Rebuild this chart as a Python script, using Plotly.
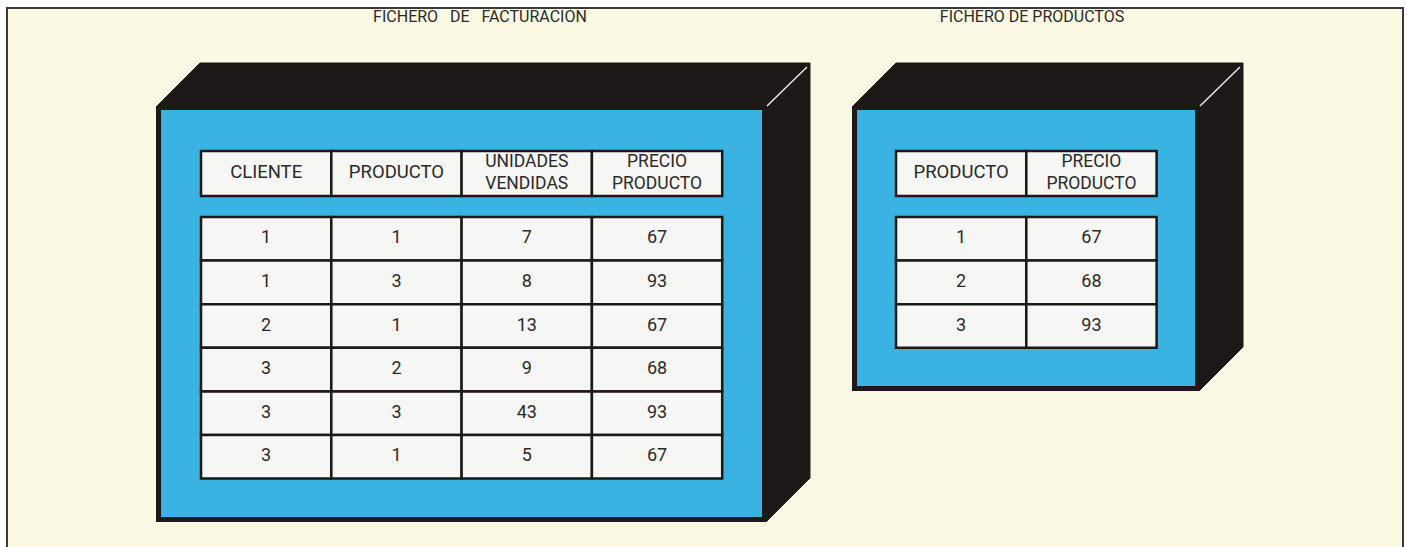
import plotly.graph_objects as go

W, H = 1407, 547

# ---------------- data ----------------
fact_title = "FICHERO\u00a0\u00a0\u00a0DE\u00a0\u00a0\u00a0FACTURACION"
prod_title = "FICHERO DE PRODUCTOS"

fact_headers = ["CLIENTE", "PRODUCTO", "UNIDADES\nVENDIDAS", "PRECIO\nPRODUCTO"]
fact_cliente = [1, 1, 2, 3, 3, 3]
fact_producto = [1, 3, 1, 2, 3, 1]
fact_unidades = [7, 8, 13, 9, 43, 5]
fact_precio = [67, 93, 67, 68, 93, 67]

prod_headers = ["PRODUCTO", "PRECIO\nPRODUCTO"]
prod_producto = [1, 2, 3]
prod_precio = [67, 68, 93]

# ---------------- style / layout ----------------
CREAM = "#FBF9E3"
BLUE = "#3AB3E2"
BLACK = "#1D1919"
CELL = "#F6F6F4"
INK = "#2A2A2A"
FONT = "Roboto, Liberation Sans, sans-serif"

CELL_W = 130.3
HEAD_TOP, HEAD_H = 151, 45
DATA_TOP, ROW_H = 217, 43.6
DEPTH = 44
BORDER = 5

boxes = [
    dict(x0=156, y0=107, x1=766, y1=522, tx=201, title=fact_title, title_x=480,
         headers=fact_headers,
         cols=[fact_cliente, fact_producto, fact_unidades, fact_precio]),
    dict(x0=852, y0=107, x1=1199, y1=391, tx=896, title=prod_title, title_x=1032,
         headers=prod_headers,
         cols=[prod_producto, prod_precio]),
]

shapes = []
# page frame
shapes.append(dict(type="rect", x0=7, y0=8, x1=1403, y1=620, fillcolor=CREAM,
                   line=dict(color="#3a3a3a", width=2), layer="below"))

head1_x, head1_y, head1_s = [], [], []
head2_x, head2_y, head2_s = [], [], []
text_x, text_y, text_s = [], [], []
title_x, title_y, title_s = [], [], []

for b in boxes:
    x0, y0, x1, y1 = b["x0"], b["y0"], b["x1"], b["y1"]
    d = DEPTH
    # top + side faces
    path = (f"M {x0},{y0} L {x0+d},{y0-d} L {x1+d},{y0-d} L {x1+d},{y1-d} "
            f"L {x1},{y1} L {x1},{y0} Z")
    shapes.append(dict(type="path", path=path, fillcolor=BLACK,
                       line=dict(color=BLACK, width=1), layer="below"))
    # front face
    shapes.append(dict(type="rect", x0=x0, y0=y0, x1=x1, y1=y1, fillcolor=BLACK,
                       line=dict(width=0), layer="below"))
    shapes.append(dict(type="rect", x0=x0 + BORDER, y0=y0 + 3, x1=x1 - 4, y1=y1 - BORDER,
                       fillcolor=BLUE, line=dict(width=0), layer="below"))
    # highlight edge
    shapes.append(dict(type="line", x0=x1 + d - 3, y0=y0 - d + 4, x1=x1 + 1, y1=y0 - 1,
                       line=dict(color="#E8E8E8", width=1.5), layer="below"))

    ncol = len(b["headers"])
    tx = b["tx"]
    # header cells
    for j, hdr in enumerate(b["headers"]):
        cx0 = tx + j * CELL_W
        shapes.append(dict(type="rect", x0=cx0, y0=HEAD_TOP, x1=cx0 + CELL_W,
                           y1=HEAD_TOP + HEAD_H, fillcolor=CELL,
                           line=dict(color=BLACK, width=2.5), layer="below"))
        lines = hdr.split("\n")
        cy = HEAD_TOP + HEAD_H / 2
        if len(lines) == 1:
            head1_x.append(cx0 + CELL_W / 2)
            head1_y.append(cy)
            head1_s.append(lines[0])
        else:
            head2_x.append(cx0 + CELL_W / 2)
            head2_y.append(cy)
            head2_s.append("<br>".join(lines))
    # data cells
    nrow = len(b["cols"][0])
    for i in range(nrow):
        for j in range(ncol):
            cx0 = tx + j * CELL_W
            cy0 = DATA_TOP + i * ROW_H
            shapes.append(dict(type="rect", x0=cx0, y0=cy0, x1=cx0 + CELL_W,
                               y1=cy0 + ROW_H, fillcolor=CELL,
                               line=dict(color=BLACK, width=2.5), layer="below"))
            text_x.append(cx0 + CELL_W / 2)
            text_y.append(cy0 + ROW_H / 2)
            text_s.append(str(b["cols"][j][i]))
    title_x.append(b["title_x"])
    title_y.append(18)
    title_s.append(b["title"])

fig = go.Figure()
fig.add_trace(go.Scatter(x=head1_x, y=head1_y, text=head1_s, mode="text",
                         textposition="middle center",
                         textfont=dict(family=FONT, size=18.5, color=INK),
                         hoverinfo="skip", showlegend=False))
fig.add_trace(go.Scatter(x=head2_x, y=head2_y, text=head2_s, mode="text",
                         textposition="middle center",
                         textfont=dict(family=FONT, size=17.5, color=INK),
                         hoverinfo="skip", showlegend=False))
fig.add_trace(go.Scatter(x=text_x, y=text_y, text=text_s, mode="text",
                         textposition="middle center",
                         textfont=dict(family=FONT, size=18, color=INK),
                         hoverinfo="skip", showlegend=False))
fig.add_trace(go.Scatter(x=title_x, y=title_y, text=title_s, mode="text",
                         textposition="middle center",
                         textfont=dict(family=FONT, size=16, color=INK),
                         hoverinfo="skip", showlegend=False))

fig.update_layout(
    width=W, height=H,
    margin=dict(l=0, r=0, t=0, b=0),
    paper_bgcolor="white", plot_bgcolor="white",
    shapes=shapes,
    xaxis=dict(range=[0, W], visible=False, fixedrange=True),
    yaxis=dict(range=[H, 0], visible=False, fixedrange=True),
    showlegend=False,
)

fig.write_html(
    "out.html",
    config={"displayModeBar": False, "staticPlot": True},
    post_script="document.body.style.margin='0';document.body.style.overflow='hidden';",
)
